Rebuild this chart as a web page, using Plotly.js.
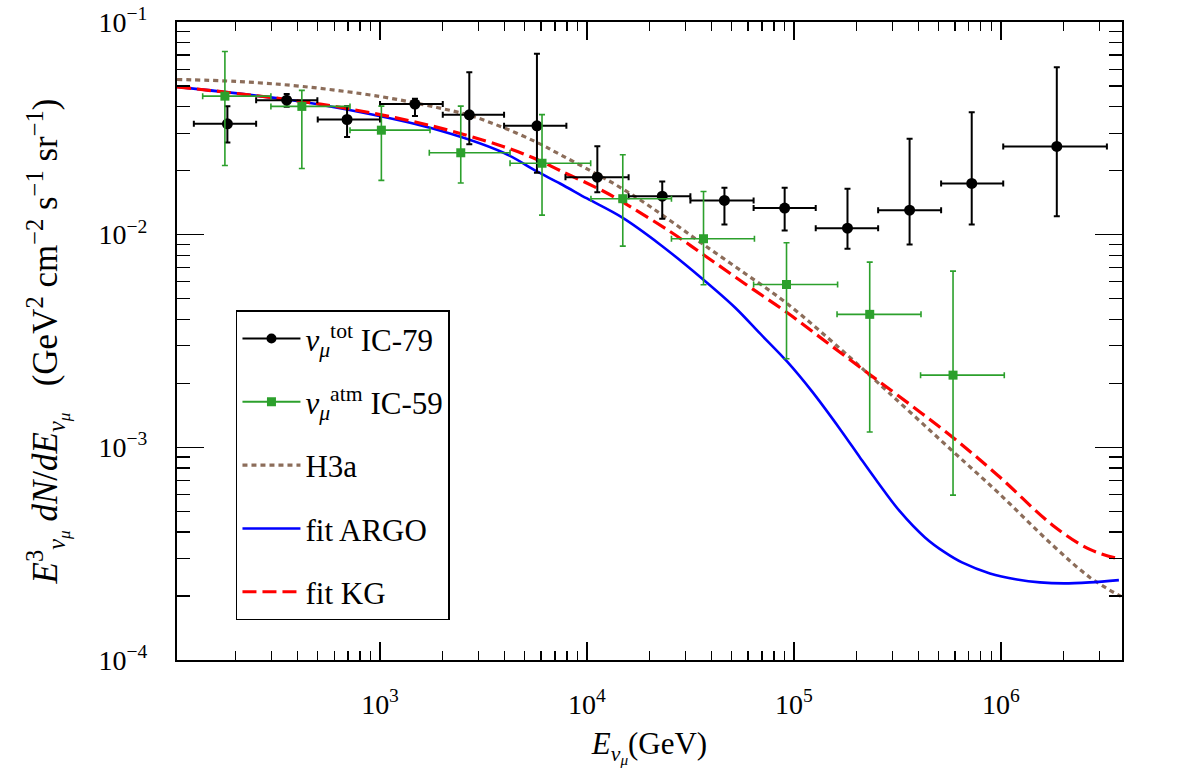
<!DOCTYPE html>
<html>
<head>
<meta charset="utf-8">
<script src="https://cdn.plot.ly/plotly-3.0.1.min.js"></script>
<style>html,body{margin:0;padding:0;background:#fff;}#chart{width:1182px;height:780px;}</style>
</head>
<body>
<div id="chart"></div>
<script>
// ---- IC-79 nu_mu total (black circles) ----
const ic79E    = [183, 354, 693, 1475, 2700, 5730, 11220, 23100, 46140, 90170, 181400, 362000, 722600, 1862000];
const ic79ELo  = [126, 252, 500, 1000, 2010, 3975, 7870, 15890, 31590, 63830, 127400, 255100, 514000, 1026000];
const ic79EHi  = [252, 498, 1000, 2010, 3975, 7950, 15890, 31590, 63830, 127400, 255100, 514000, 1026000, 3251000];
const ic79F    = [0.0332, 0.0429, 0.0348, 0.0411, 0.0366, 0.0325, 0.01863, 0.01517, 0.01449, 0.01334, 0.01073, 0.01303, 0.01741, 0.0260];
const ic79FLo  = [0.0271, 0.0400, 0.0288, 0.0361, 0.0266, 0.01954, 0.01585, 0.01188, 0.01117, 0.01045, 0.00859, 0.00899, 0.01117, 0.01222];
const ic79FHi  = [0.0402, 0.0458, 0.0402, 0.0436, 0.0581, 0.0709, 0.02606, 0.01778, 0.01661, 0.01661, 0.01644, 0.02825, 0.03767, 0.0613];

// ---- IC-59 nu_mu atmospheric (green squares) ----
const ic59E    = [178, 419, 1015, 2455, 6063, 14890, 36560, 92050, 232300, 586900];
const ic59ELo  = [139, 297, 716, 1730, 4248, 10450, 25590, 63830, 161500, 409000];
const ic59EHi  = [297, 716, 1744, 4248, 10420, 25590, 64420, 162500, 411000, 1038000];
const ic59F    = [0.0448, 0.0401, 0.0310, 0.02427, 0.02167, 0.01476, 0.00957, 0.00583, 0.00422, 0.002185];
const ic59FLo  = [0.02115, 0.02047, 0.0180, 0.0175, 0.01235, 0.00883, 0.00581, 0.00261, 0.00118, 0.000596];
const ic59FHi  = [0.0727, 0.0477, 0.0402, 0.0402, 0.0367, 0.02377, 0.01596, 0.00916, 0.00743, 0.00674];

// ---- H3a (brown dotted) ----
const h3aE = [104.5, 203.8, 424.6, 1000, 1886, 2721, 3929, 5735, 7408, 10340, 13960, 18860, 25180, 35940, 57990, 92520, 168700, 232900, 586400, 967200, 1783000, 2691000, 3798000];
const h3aF = [0.05366, 0.05252, 0.04974, 0.04463, 0.03963, 0.03634, 0.03192, 0.02714, 0.02382, 0.02003, 0.01703, 0.01417, 0.01166, 0.009092, 0.006570, 0.004749, 0.002886, 0.002178, 0.0009565, 0.0006137, 0.0003457, 0.0002445, 0.0001991];

// ---- fit ARGO (blue solid) ----
const argoE = [104.5, 355.4, 692.8, 1744, 3929, 5735, 7408, 10000, 14760, 22530, 35940, 51880, 68510, 92520, 122200, 168700, 208400, 254500, 325200, 429500, 536300, 648100, 885000, 1195000, 1543000, 2016000, 2691000, 3715000];
const argoF = [0.04957, 0.04320, 0.03878, 0.03182, 0.02434, 0.01982, 0.01740, 0.01480, 0.01205, 0.008994, 0.006224, 0.004547, 0.003431, 0.002534, 0.001832, 0.001201, 0.0008964, 0.0006839, 0.0004995, 0.0003770, 0.0003205, 0.0002876, 0.0002554, 0.0002393, 0.0002317, 0.0002292, 0.0002317, 0.0002374];

// ---- fit KG (red dashed) ----
const kgE = [104.5, 355.4, 692.8, 1744, 3929, 5735, 7408, 12080, 14430, 25180, 37580, 58630, 92520, 144300, 225300, 363500, 586400, 967200, 1783000, 2691000, 3798000];
const kgF = [0.04957, 0.04320, 0.03920, 0.03262, 0.02598, 0.02257, 0.02003, 0.01596, 0.01448, 0.01035, 0.007898, 0.005832, 0.004306, 0.003112, 0.002250, 0.001591, 0.001113, 0.0007377, 0.0004293, 0.0003311, 0.0002972];

// ---- axis ticks ----
const xTickVals = [1e3, 1e4, 1e5, 1e6];
const xTickText = ['10<sup>3</sup>', '10<sup>4</sup>', '10<sup>5</sup>', '10<sup>6</sup>'];
const yTickVals = [1e-4, 1e-3, 1e-2, 1e-1];
const yTickText = ['10<sup>−4</sup>', '10<sup>−3</sup>', '10<sup>−2</sup>', '10<sup>−1</sup>'];

function minorVals(lo, hi) {
  const out = [];
  for (let e = lo; e <= hi; e++) for (let d = 2; d <= 9; d++) out.push(d * Math.pow(10, e));
  return out;
}
const diff = (a, b) => a.map((v, i) => v - b[i]);

const FONT = 'Liberation Serif, Times New Roman, serif';
const GREEN = '#2ca02c';
const BROWN = '#8c6d5a';

const traces = [
  {x: h3aE, y: h3aF, mode: 'lines', line: {color: BROWN, width: 3.2, dash: '5px,4px', shape: 'spline', smoothing: 1}, showlegend: false, hoverinfo: 'skip'},
  {x: argoE, y: argoF, mode: 'lines', line: {color: '#0000ff', width: 2.6, shape: 'spline', smoothing: 1}, showlegend: false, hoverinfo: 'skip'},
  {x: kgE, y: kgF, mode: 'lines', line: {color: '#ff0000', width: 3.2, dash: '14px,6px', shape: 'spline', smoothing: 1}, showlegend: false, hoverinfo: 'skip'},
  {x: ic79E, y: ic79F, mode: 'markers', marker: {color: 'black', size: 11, symbol: 'circle'},
   error_x: {type: 'data', symmetric: false, array: diff(ic79EHi, ic79E), arrayminus: diff(ic79E, ic79ELo), color: 'black', thickness: 2, width: 3},
   error_y: {type: 'data', symmetric: false, array: diff(ic79FHi, ic79F), arrayminus: diff(ic79F, ic79FLo), color: 'black', thickness: 2, width: 3},
   showlegend: false},
  {x: ic59E, y: ic59F, mode: 'markers', marker: {color: GREEN, size: 9, symbol: 'square'},
   error_x: {type: 'data', symmetric: false, array: diff(ic59EHi, ic59E), arrayminus: diff(ic59E, ic59ELo), color: GREEN, thickness: 1.6, width: 3},
   error_y: {type: 'data', symmetric: false, array: diff(ic59FHi, ic59F), arrayminus: diff(ic59F, ic59FLo), color: GREEN, thickness: 1.6, width: 3},
   showlegend: false},
  // legend entries
  {x: [null], y: [null], mode: 'lines+markers', name: '<i>ν</i><sub><i>μ</i></sub><sup>tot</sup> IC-79', line: {color: 'black', width: 2}, marker: {color: 'black', size: 10}, legendgroup: 'a'},
  {x: [null], y: [null], mode: 'lines+markers', name: '<i>ν</i><sub><i>μ</i></sub><sup>atm</sup> IC-59', line: {color: GREEN, width: 2}, marker: {color: GREEN, size: 9, symbol: 'square'}, legendgroup: 'b'},
  {x: [null], y: [null], mode: 'lines', name: 'H3a', line: {color: BROWN, width: 3.2, dash: '5px,4px'}, legendgroup: 'c'},
  {x: [null], y: [null], mode: 'lines', name: 'fit ARGO', line: {color: '#0000ff', width: 2.6}, legendgroup: 'd'},
  {x: [null], y: [null], mode: 'lines', name: 'fit KG', line: {color: '#ff0000', width: 3.2, dash: '14px,6px'}, legendgroup: 'e'}
];

const axisCommon = {
  type: 'log', showgrid: false, zeroline: false, showline: true, linecolor: 'black', linewidth: 2,
  mirror: 'allticks', ticks: 'inside', tickcolor: 'black', tickwidth: 1.5,
  tickmode: 'array', tickfont: {family: FONT, size: 28, color: 'black'}
};

const layout = {
  width: 1182, height: 780,
  margin: {l: 177, r: 60, t: 22, b: 120},
  paper_bgcolor: 'white', plot_bgcolor: 'white',
  font: {family: FONT, color: 'black'},
  xaxis: Object.assign({}, axisCommon, {
    range: [2.019, 6.585], tickvals: xTickVals, ticktext: xTickText, ticklen: 18, ticklabelstandoff: 18,
    minor: {tickmode: 'array', tickvals: minorVals(2, 6), ticks: 'inside', ticklen: 9, tickcolor: 'black', tickwidth: 1.2, showgrid: false},
    title: {text: '<i>E</i><sub><i>ν</i><sub><i>μ</i></sub></sub>(GeV)', font: {family: FONT, size: 31, color: 'black'}, standoff: 14}
  }),
  yaxis: Object.assign({}, axisCommon, {
    range: [-4, -1], tickvals: yTickVals, ticktext: yTickText, ticklen: 27, ticklabelstandoff: 22,
    minor: {tickmode: 'array', tickvals: minorVals(-5, -2), ticks: 'inside', ticklen: 13, tickcolor: 'black', tickwidth: 1.2, showgrid: false},
    title: {text: '<i>E</i><sup>3</sup><sub><i>ν</i><sub><i>μ</i></sub></sub> <i>dN</i>/<i>dE</i><sub><i>ν</i><sub><i>μ</i></sub></sub>   (GeV<sup>2</sup> cm<sup>−2</sup> s<sup>−1</sup> sr<sup>−1</sup>)', font: {family: FONT, size: 35, color: 'black'}, standoff: 30}
  }),
  legend: {
    x: 0.0624, y: 0.548, xanchor: 'left', yanchor: 'top',
    bgcolor: 'white', bordercolor: 'black', borderwidth: 1.5,
    font: {family: FONT, size: 31, color: 'black'},
    traceorder: 'grouped', tracegroupgap: 20, itemwidth: 58
  },
  showlegend: true
};

Plotly.newPlot('chart', traces, layout, {displayModeBar: false, staticPlot: true});
</script>
</body>
</html>
